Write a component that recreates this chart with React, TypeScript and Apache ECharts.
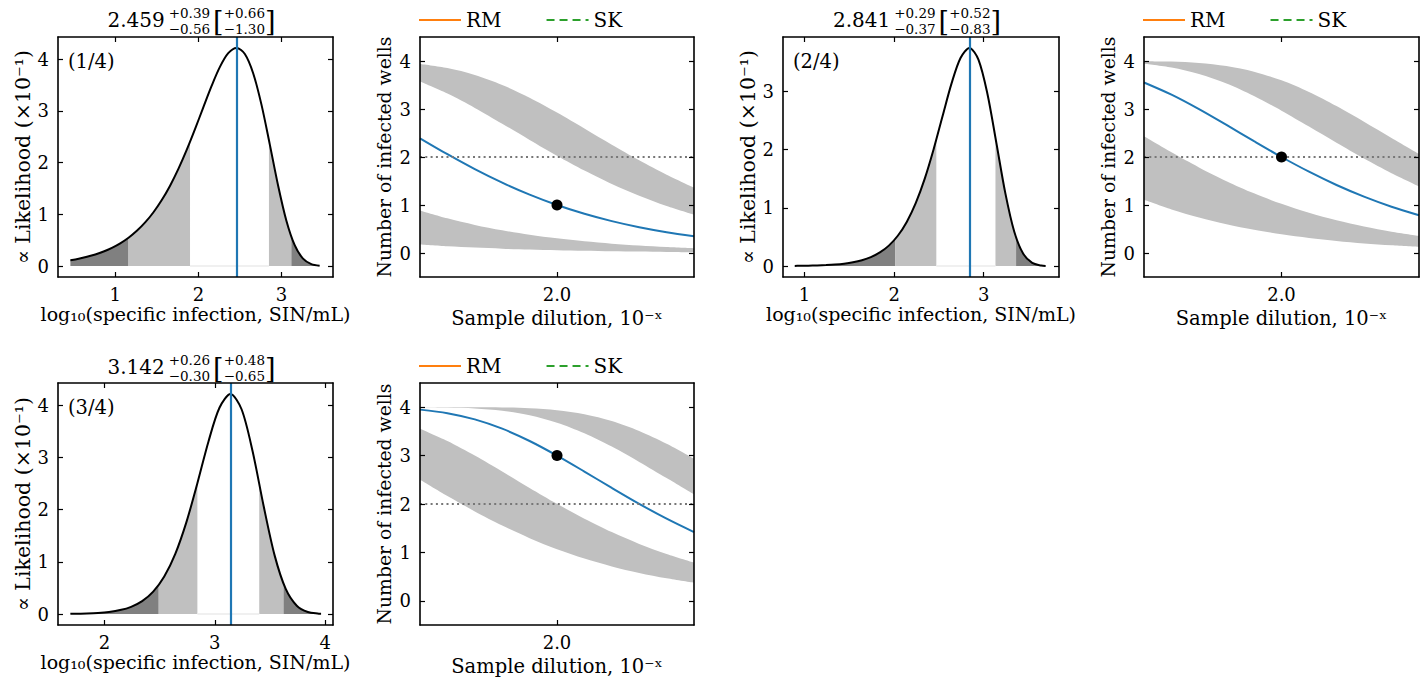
import React, { useEffect, useRef } from "react";
import * as echarts from "echarts";

const FONT = '"DejaVu Serif", serif';

// ---------- Likelihood panels (log10 specific infection) ----------
const lik1X = [0.459, 0.559, 0.659, 0.759, 0.859, 0.959, 1.059, 1.159, 1.259, 1.359, 1.459, 1.559, 1.659, 1.759, 1.859, 1.959, 2.059, 2.159, 2.259, 2.359, 2.459, 2.559, 2.659, 2.759, 2.859, 2.959, 3.059, 3.159, 3.259, 3.359, 3.459];
const lik1Y = [0.114, 0.143, 0.18, 0.225, 0.282, 0.353, 0.44, 0.548, 0.682, 0.844, 1.041, 1.277, 1.555, 1.879, 2.246, 2.648, 3.071, 3.486, 3.853, 4.118, 4.22, 4.102, 3.731, 3.123, 2.355, 1.56, 0.878, 0.404, 0.145, 0.038, 0.007];
const lik1BoundX = [1.159, 1.899, 2.849, 3.119];
const lik1BoundY = [0.548, 2.403, 2.436, 0.566];
const lik1Best = 2.459;
const lik1Title = ["2.459", "+0.39", "\u22120.56", "+0.66", "\u22121.30"];

const lik2X = [0.891, 0.941, 1.041, 1.141, 1.241, 1.341, 1.441, 1.541, 1.641, 1.741, 1.841, 1.941, 2.041, 2.141, 2.241, 2.341, 2.441, 2.541, 2.641, 2.741, 2.841, 2.941, 3.041, 3.141, 3.241, 3.341, 3.441, 3.541, 3.641, 3.691];
const lik2Y = [0.0035, 0.0045, 0.007, 0.011, 0.0173, 0.027, 0.0421, 0.0653, 0.1007, 0.1542, 0.2342, 0.3518, 0.5214, 0.7591, 1.0816, 1.4995, 2.0092, 2.5795, 3.1402, 3.576, 3.75, 3.5503, 2.963, 2.1187, 1.2542, 0.5907, 0.2111, 0.0541, 0.0093, 0.0032];
const lik2BoundX = [2.011, 2.471, 3.131, 3.361];
const lik2BoundY = [0.4641, 2.1763, 2.2084, 0.4924];
const lik2Best = 2.841;
const lik2Title = ["2.841", "+0.29", "\u22120.37", "+0.52", "\u22120.83"];

const lik3X = [1.692, 1.742, 1.842, 1.942, 2.042, 2.142, 2.242, 2.342, 2.442, 2.542, 2.642, 2.742, 2.842, 2.942, 3.042, 3.142, 3.242, 3.342, 3.442, 3.542, 3.642, 3.742, 3.842, 3.942, 3.962];
const lik3Y = [0.0042, 0.0059, 0.0113, 0.0215, 0.0406, 0.0755, 0.138, 0.2464, 0.428, 0.718, 1.1537, 1.7576, 2.5082, 3.3054, 3.9557, 4.2188, 3.9275, 3.1217, 2.0707, 1.1196, 0.4806, 0.1585, 0.0383, 0.0064, 0.0042];
const lik3BoundX = [2.492, 2.842, 3.402, 3.622];
const lik3BoundY = [0.557, 2.5082, 2.4976, 0.5807];
const lik3Best = 3.142;
const lik3Title = ["3.142", "+0.26", "\u22120.30", "+0.48", "\u22120.65"];

// ---------- Well panels (number of infected wells vs dilution) ----------
const dilutionX = [1.5, 1.6, 1.7, 1.8, 1.9, 2.0, 2.1, 2.2, 2.3, 2.4, 2.5];

const wells1Fit = [2.39, 2.058, 1.747, 1.465, 1.216, 1.0, 0.817, 0.664, 0.537, 0.433, 0.348];
const wells1UpHi = [3.937, 3.853, 3.71, 3.502, 3.236, 2.926, 2.593, 2.255, 1.931, 1.63, 1.361];
const wells1UpLo = [3.571, 3.321, 3.023, 2.694, 2.356, 2.026, 1.717, 1.438, 1.193, 0.98, 0.8];
const wells1LowHi = [0.887, 0.722, 0.585, 0.472, 0.38, 0.305, 0.244, 0.195, 0.156, 0.124, 0.099];
const wells1LowLo = [0.178, 0.142, 0.113, 0.09, 0.072, 0.057, 0.046, 0.036, 0.029, 0.023, 0.018];
const wells1Obs = 1;

const wells2Fit = [3.553, 3.299, 2.997, 2.667, 2.329, 2.0, 1.694, 1.417, 1.174, 0.964, 0.787];
const wells2UpHi = [3.997, 3.987, 3.959, 3.895, 3.778, 3.597, 3.354, 3.06, 2.734, 2.396, 2.064];
const wells2UpLo = [3.944, 3.866, 3.73, 3.53, 3.27, 2.965, 2.633, 2.295, 1.968, 1.664, 1.391];
const wells2LowHi = [2.43, 2.097, 1.783, 1.497, 1.243, 1.024, 0.837, 0.681, 0.551, 0.444, 0.357];
const wells2LowLo = [1.108, 0.908, 0.74, 0.6, 0.484, 0.39, 0.313, 0.251, 0.2, 0.16, 0.128];
const wells2Obs = 2;

const wells3Fit = [3.95, 3.877, 3.748, 3.556, 3.302, 3.0, 2.67, 2.332, 2.003, 1.697, 1.42];
const wells3UpHi = [4.0, 4.0, 3.999, 3.995, 3.979, 3.939, 3.856, 3.715, 3.509, 3.245, 2.936];
const wells3UpLo = [3.999, 3.993, 3.974, 3.927, 3.833, 3.679, 3.461, 3.186, 2.87, 2.535, 2.199];
const wells3LowHi = [3.556, 3.302, 3.0, 2.67, 2.332, 2.003, 1.697, 1.42, 1.176, 0.967, 0.789];
const wells3LowLo = [2.501, 2.166, 1.847, 1.554, 1.294, 1.067, 0.874, 0.711, 0.576, 0.465, 0.374];
const wells3Obs = 3;

const obsDilution = 2.0;
const wellThreshold = 2;
const wellTicks = [0, 1, 2, 3, 4];
const dilutionTicks = [2.0];
const legendNames = ["RM", "SK"];

// ---------- layout ----------
const BOXES = [
  { left: 58, top: 37, width: 275, height: 240 },
  { left: 420, top: 37, width: 274, height: 240 },
  { left: 783, top: 37, width: 276, height: 240 },
  { left: 1144, top: 37, width: 275, height: 240 },
  { left: 58, top: 383, width: 275, height: 242 },
  { left: 420, top: 383, width: 274, height: 242 },
];

const likPanels = [
  { gi: 0, xs: lik1X, ys: lik1Y, bx: lik1BoundX, by: lik1BoundY, best: lik1Best, title: lik1Title, tag: "(1/4)", xMin: 0.31, xMax: 3.62, yMin: -0.211, yMax: 4.431, xTicks: [1, 2, 3], yTicks: [0, 1, 2, 3, 4], titleY: 20 },
  { gi: 2, xs: lik2X, ys: lik2Y, bx: lik2BoundX, by: lik2BoundY, best: lik2Best, title: lik2Title, tag: "(2/4)", xMin: 0.76, xMax: 3.84, yMin: -0.1875, yMax: 3.9375, xTicks: [1, 2, 3], yTicks: [0, 1, 2, 3], titleY: 20 },
  { gi: 4, xs: lik3X, ys: lik3Y, bx: lik3BoundX, by: lik3BoundY, best: lik3Best, title: lik3Title, tag: "(3/4)", xMin: 1.58, xMax: 4.07, yMin: -0.211, yMax: 4.431, xTicks: [2, 3, 4], yTicks: [0, 1, 2, 3, 4], titleY: 367 },
];

const wellPanels = [
  { gi: 1, fit: wells1Fit, upHi: wells1UpHi, upLo: wells1UpLo, lowHi: wells1LowHi, lowLo: wells1LowLo, obs: wells1Obs },
  { gi: 3, fit: wells2Fit, upHi: wells2UpHi, upLo: wells2UpLo, lowHi: wells2LowHi, lowLo: wells2LowLo, obs: wells2Obs },
  { gi: 5, fit: wells3Fit, upHi: wells3UpHi, upLo: wells3UpLo, lowHi: wells3LowHi, lowLo: wells3LowLo, obs: wells3Obs },
];

let measureCtx: CanvasRenderingContext2D | null = null;
function textW(t: string, size: number) {
  if (!measureCtx) measureCtx = document.createElement("canvas").getContext("2d");
  if (!measureCtx) return t.length * size * 0.6;
  measureCtx.font = `${size}px "DejaVu Serif"`;
  return measureCtx.measureText(t).width;
}

function txt(text: string, x: number, y: number, size: number, align = "left") {
  return {
    type: "text", x, y, silent: true, z: 30,
    style: { text, fontSize: size, fontFamily: FONT, fill: "#000", align, verticalAlign: "middle" },
  };
}

function titleEls(cx: number, cy: number, parts: string[]) {
  const [main, sup1, sub1, sup2, sub2] = parts;
  const M = 20, S = 13.5, B = 27;
  const wMain = textW(main, M);
  const w1 = Math.max(textW(sup1, S), textW(sub1, S));
  const wB = textW("[", B);
  const w2 = Math.max(textW(sup2, S), textW(sub2, S));
  const total = wMain + 4 + w1 + 3 + wB + w2 + wB;
  let x = cx - total / 2;
  const els: any[] = [];
  els.push(txt(main, x, cy, M));
  x += wMain + 4;
  els.push(txt(sup1, x, cy - 7.5, S));
  els.push(txt(sub1, x, cy + 9, S));
  x += w1 + 3;
  els.push(txt("[", x, cy + 1, B));
  x += wB;
  els.push(txt(sup2, x, cy - 7.5, S));
  els.push(txt(sub2, x, cy + 9, S));
  x += w2;
  els.push(txt("]", x, cy + 1, B));
  return els;
}

const axisLineStyle = { color: "#000", width: 1.6 };
const TICK_FS = 18;

function mkX(gi: number, pos: string, min: number, max: number, ticks: number[], fmt: (v: number) => string, name: string, gap: number, nameSize: number) {
  const main = pos === "bottom";
  return {
    type: "value", gridIndex: gi, position: pos, min, max, z: 20,
    axisLine: { show: true, onZero: false, lineStyle: axisLineStyle },
    axisTick: { show: true, inside: true, length: 5, lineStyle: { color: "#000", width: 1.2 }, customValues: ticks },
    axisLabel: { show: main, customValues: ticks, formatter: fmt, color: "#000", fontFamily: FONT, fontSize: TICK_FS, margin: 8 },
    splitLine: { show: false },
    name: main ? name : "", nameLocation: "middle", nameGap: gap,
    nameTextStyle: { color: "#000", fontFamily: FONT, fontSize: nameSize },
  };
}

function mkY(gi: number, pos: string, min: number, max: number, ticks: number[], name: string, gap: number, nameSize: number) {
  const main = pos === "left";
  return {
    type: "value", gridIndex: gi, position: pos, min, max, z: 20,
    axisLine: { show: true, onZero: false, lineStyle: axisLineStyle },
    axisTick: { show: true, inside: true, length: 5, lineStyle: { color: "#000", width: 1.2 }, customValues: ticks },
    axisLabel: { show: main, customValues: ticks, formatter: (v: number) => String(v), color: "#000", fontFamily: FONT, fontSize: TICK_FS, margin: 9 },
    splitLine: { show: false },
    name: main ? name : "", nameLocation: "middle", nameRotate: 90, nameGap: gap,
    nameTextStyle: { color: "#000", fontFamily: FONT, fontSize: nameSize },
  };
}

function segment(xs: number[], ys: number[], start: number[] | null, end: number[] | null) {
  const a = start ? start[0] : -Infinity;
  const b = end ? end[0] : Infinity;
  const pts: number[][] = [];
  if (start) pts.push(start);
  xs.forEach((x, i) => { if (x > a && x < b) pts.push([x, ys[i]]); });
  if (end) pts.push(end);
  return pts;
}

const SMOOTH = 0.3;

function buildOption() {
  const xAxis: any[] = [];
  const yAxis: any[] = [];
  const series: any[] = [];
  const graphic: any[] = [];
  const legend: any[] = [];
  const grid = BOXES.map((b) => ({ ...b, containLabel: false, show: false }));

  likPanels.forEach((p) => {
    const gi = p.gi;
    const box = BOXES[gi];
    xAxis[2 * gi] = mkX(gi, "bottom", p.xMin, p.xMax, p.xTicks, (v) => String(v), "log\u2081\u2080(specific infection, SIN/mL)", 27, 19);
    xAxis[2 * gi + 1] = mkX(gi, "top", p.xMin, p.xMax, p.xTicks, (v) => String(v), "", 0, 19);
    yAxis[2 * gi] = mkY(gi, "left", p.yMin, p.yMax, p.yTicks, "\u221D Likelihood (\u00D710\u207B\u00B9)", 24, 20.5);
    yAxis[2 * gi + 1] = mkY(gi, "right", p.yMin, p.yMax, p.yTicks, "", 0, 20);
    const b = p.bx.map((x, i) => [x, p.by[i]]);
    const regions = [
      { pts: segment(p.xs, p.ys, null, b[0]), color: "#808080" },
      { pts: segment(p.xs, p.ys, b[0], b[1]), color: "#c0c0c0" },
      { pts: segment(p.xs, p.ys, b[2], b[3]), color: "#c0c0c0" },
      { pts: segment(p.xs, p.ys, b[3], null), color: "#808080" },
    ];
    regions.forEach((r) => {
      series.push({
        type: "line", xAxisIndex: 2 * gi, yAxisIndex: 2 * gi, data: r.pts, smooth: SMOOTH,
        symbol: "none", silent: true, lineStyle: { width: 0, opacity: 0 }, areaStyle: { color: r.color, opacity: 1 },
      });
    });
    // faint baseline of the central (white) interval
    series.push({
      type: "line", xAxisIndex: 2 * gi, yAxisIndex: 2 * gi, data: [[p.bx[1], 0], [p.bx[2], 0]],
      symbol: "none", silent: true, lineStyle: { color: "#ebebeb", width: 1.5 },
    });
    series.push({
      type: "line", xAxisIndex: 2 * gi, yAxisIndex: 2 * gi, data: p.xs.map((x, i) => [x, p.ys[i]]),
      smooth: SMOOTH, symbol: "none", silent: true,
      lineStyle: { color: "#000", width: 2 },
      markLine: {
        silent: true, symbol: ["none", "none"], label: { show: false },
        lineStyle: { color: "#1f77b4", width: 2.2, type: "solid" },
        data: [{ xAxis: p.best }],
      },
    });
    graphic.push(txt(p.tag, box.left + 10, box.top + 24, 19.5));
    graphic.push(...titleEls(box.left + box.width / 2 - 4, p.titleY, p.title));
  });

  wellPanels.forEach((p) => {
    const gi = p.gi;
    const box = BOXES[gi];
    xAxis[2 * gi] = mkX(gi, "bottom", 1.5, 2.5, dilutionTicks, (v) => v.toFixed(1), "Sample dilution, 10\u207B\u02E3", 31, 19.5);
    xAxis[2 * gi + 1] = mkX(gi, "top", 1.5, 2.5, dilutionTicks, (v) => v.toFixed(1), "", 0, 19.5);
    yAxis[2 * gi] = mkY(gi, "left", -0.5, 4.5, wellTicks, "Number of infected wells", 26, 18.8);
    yAxis[2 * gi + 1] = mkY(gi, "right", -0.5, 4.5, wellTicks, "", 0, 18.8);
    // bands: grey fill down to the axis, then white fill covers below the band
    const layers = [
      { vals: p.upHi, color: "#c0c0c0" },
      { vals: p.upLo, color: "#ffffff" },
      { vals: p.lowHi, color: "#c0c0c0" },
      { vals: p.lowLo, color: "#ffffff" },
    ];
    layers.forEach((l) => {
      series.push({
        type: "line", xAxisIndex: 2 * gi, yAxisIndex: 2 * gi, data: dilutionX.map((x, i) => [x, l.vals[i]]),
        smooth: SMOOTH, symbol: "none", silent: true, lineStyle: { width: 0, opacity: 0 },
        areaStyle: { color: l.color, opacity: 1, origin: "start" },
      });
    });
    series.push({
      type: "line", xAxisIndex: 2 * gi, yAxisIndex: 2 * gi, data: dilutionX.map((x, i) => [x, p.fit[i]]),
      smooth: SMOOTH, symbol: "none", silent: true, lineStyle: { color: "#1f77b4", width: 2 },
      markLine: {
        silent: true, symbol: ["none", "none"], label: { show: false },
        lineStyle: { color: "#777777", width: 2.2, type: [2, 3.3] },
        data: [{ yAxis: wellThreshold }],
      },
    });
    series.push({
      type: "scatter", xAxisIndex: 2 * gi, yAxisIndex: 2 * gi, data: [[obsDilution, p.obs]],
      symbolSize: 11, itemStyle: { color: "#000", opacity: 1 }, z: 10, silent: true,
    });
    series.push({
      name: legendNames[0], type: "line", xAxisIndex: 2 * gi, yAxisIndex: 2 * gi, data: [], symbol: "none",
      lineStyle: { color: "#ff7f0e", width: 2 }, itemStyle: { color: "#ff7f0e", opacity: 0 },
    });
    series.push({
      name: legendNames[1], type: "line", xAxisIndex: 2 * gi, yAxisIndex: 2 * gi, data: [], symbol: "none",
      lineStyle: { color: "#2ca02c", width: 2, type: [8, 5] }, itemStyle: { color: "#2ca02c", opacity: 0 },
    });
    legend.push({
      show: true, data: legendNames, left: box.left - 2, top: box.top - 27, itemWidth: 42, itemHeight: 14, itemGap: 44,
      padding: 0, selectedMode: false, itemStyle: { opacity: 0 },
      textStyle: { fontFamily: FONT, fontSize: 20, color: "#000" },
    });
  });

  return { animation: false, backgroundColor: "#fff", grid, xAxis, yAxis, series, graphic, legend };
}

export default function App() {
  const ref = useRef<HTMLDivElement>(null);
  useEffect(() => {
    if (!ref.current) return;
    const chart = echarts.init(ref.current, null, { renderer: "svg" });
    chart.setOption(buildOption() as any);
    return () => chart.dispose();
  }, []);
  return <div ref={ref} style={{ position: "absolute", left: 0, top: 0, width: 1423, height: 681, background: "#fff" }} />;
}
